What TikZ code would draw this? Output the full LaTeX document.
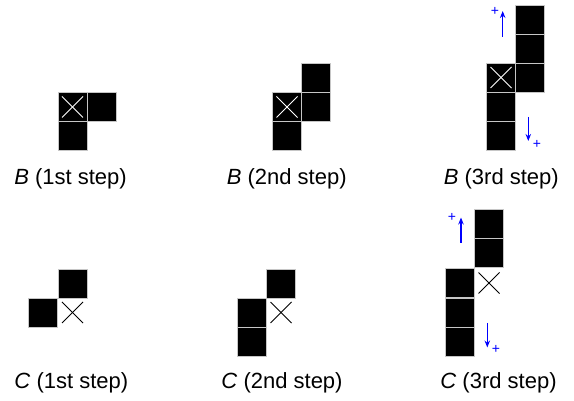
\documentclass[tikz,border=0pt]{standalone}
\usepackage{fontspec}
\setmainfont{Liberation Sans}
\usetikzlibrary{arrows.meta}
\begin{document}
\begin{tikzpicture}[x=1pt,y=-1pt,
  cellbox/.style={rectangle,fill=black,draw=gray!45,line width=0.6pt,minimum size=29pt,inner sep=0pt,outer sep=0pt},
  emptybox/.style={rectangle,minimum size=29pt,inner sep=0pt,outer sep=0pt},
  crosswhite/.style={draw=white,line width=0.8pt},
  crossblack/.style={draw=black,line width=0.8pt},
  lbl/.style={font=\fontsize{22}{25}\selectfont,anchor=base,inner sep=0pt},
  plus/.style={font=\fontsize{14}{15}\selectfont,text=blue,inner sep=0pt},
  barrow/.style={draw=blue,line width=1.1pt,-{Stealth[length=7pt,width=5.5pt]}}]
\useasboundingbox (0,0) rectangle (574,401);
% ---------- B 1st ----------
\node[cellbox] (b1x) at (72.5,107) {};
\node[cellbox] (b1r) at (101.5,107) {};
\node[cellbox] (b1d) at (72.5,136) {};
\draw[crosswhite] ([shift={(4,4)}]b1x.north west) -- ([shift={(-4,-4)}]b1x.south east);
\draw[crosswhite] ([shift={(-4,4)}]b1x.north east) -- ([shift={(4,-4)}]b1x.south west);
\node[lbl] (lb1) at (70.5,184.3) {\textit{B} (1st step)};
% ---------- B 2nd ----------
\node[cellbox] (b2x) at (287,107) {};
\node[cellbox] (b2r) at (316,107) {};
\node[cellbox] (b2u) at (316,78) {};
\node[cellbox] (b2d) at (287,136) {};
\draw[crosswhite] ([shift={(4,4)}]b2x.north west) -- ([shift={(-4,-4)}]b2x.south east);
\draw[crosswhite] ([shift={(-4,4)}]b2x.north east) -- ([shift={(4,-4)}]b2x.south west);
\node[lbl] (lb2) at (286.7,184.3) {\textit{B} (2nd step)};
% ---------- B 3rd ----------
\node[cellbox] (b3x) at (501,77.5) {};
\node[cellbox] (b3r1) at (530,77.5) {};
\node[cellbox] (b3r2) at (530,48.5) {};
\node[cellbox] (b3r3) at (530,19.5) {};
\node[cellbox] (b3d1) at (501,106.5) {};
\node[cellbox] (b3d2) at (501,135.5) {};
\draw[crosswhite] ([shift={(4,4)}]b3x.north west) -- ([shift={(-4,-4)}]b3x.south east);
\draw[crosswhite] ([shift={(-4,4)}]b3x.north east) -- ([shift={(4,-4)}]b3x.south west);
\coordinate (b3ua) at (502.7,37);
\coordinate (b3ub) at (502.7,11);
\coordinate (b3da) at (528.3,117);
\coordinate (b3db) at (528.3,141);
\draw[barrow] (b3ua) -- (b3ub);
\draw[barrow] (b3da) -- (b3db);
\node[plus] (b3p1) at (495,11.5) {+};
\node[plus] (b3p2) at (537,144.5) {+};
\node[lbl] (lb3) at (501.3,184.3) {\textit{B} (3rd step)};
% ---------- C 1st ----------
\node[cellbox] (c1u) at (72.5,283.5) {};
\node[cellbox] (c1l) at (43,312.5) {};
\node[emptybox] (c1x) at (72.5,312.5) {};
\draw[crossblack] ([shift={(4,4)}]c1x.north west) -- ([shift={(-4,-4)}]c1x.south east);
\draw[crossblack] ([shift={(-4,4)}]c1x.north east) -- ([shift={(4,-4)}]c1x.south west);
\node[lbl] (lc1) at (71.3,388.3) {\textit{C} (1st step)};
% ---------- C 2nd ----------
\node[cellbox] (c2u) at (281,283.5) {};
\node[cellbox] (c2l1) at (251.5,312.5) {};
\node[cellbox] (c2l2) at (251.5,341.5) {};
\node[emptybox] (c2x) at (281,312.5) {};
\draw[crossblack] ([shift={(4,4)}]c2x.north west) -- ([shift={(-4,-4)}]c2x.south east);
\draw[crossblack] ([shift={(-4,4)}]c2x.north east) -- ([shift={(4,-4)}]c2x.south west);
\node[lbl] (lc2) at (282,388.3) {\textit{C} (2nd step)};
% ---------- C 3rd ----------
\node[cellbox] (c3u1) at (489,223.5) {};
\node[cellbox] (c3u2) at (489,252.5) {};
\node[emptybox] (c3x) at (489,283) {};
\node[cellbox] (c3l1) at (459.5,283) {};
\node[cellbox] (c3l2) at (459.5,312.5) {};
\node[cellbox] (c3l3) at (459.5,342) {};
\draw[crossblack] ([shift={(4,4)}]c3x.north west) -- ([shift={(-4,-4)}]c3x.south east);
\draw[crossblack] ([shift={(-4,4)}]c3x.north east) -- ([shift={(4,-4)}]c3x.south west);
\coordinate (c3ua) at (461,243);
\coordinate (c3ub) at (461,217.5);
\coordinate (c3da) at (487.3,323);
\coordinate (c3db) at (487.3,347.5);
\draw[barrow] (c3ua) -- (c3ub);
\draw[barrow] (c3da) -- (c3db);
\node[plus] (c3p1) at (452,217) {+};
\node[plus] (c3p2) at (496,349.5) {+};
\node[lbl] (lc3) at (498.5,388.3) {\textit{C} (3rd step)};
\end{tikzpicture}
\end{document}
